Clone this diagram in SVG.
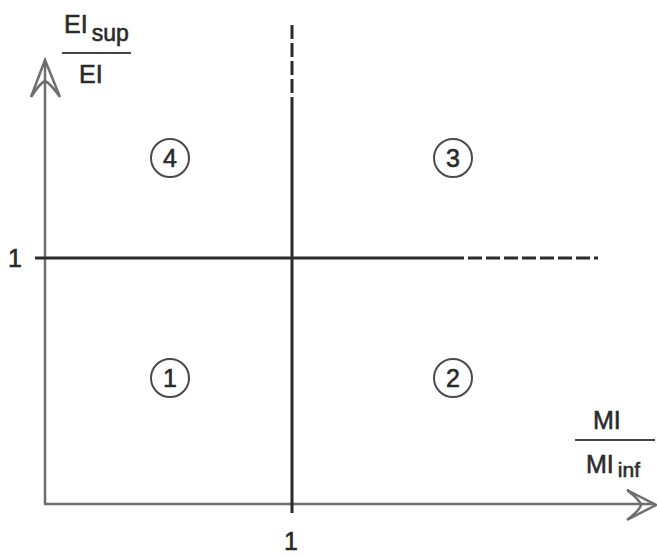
<svg xmlns="http://www.w3.org/2000/svg" width="657" height="557" viewBox="0 0 657 557">
<style>
.axis{stroke:#6e6e6e;stroke-width:2.5;fill:none}
.cross{stroke:#2b2b2b;stroke-width:3;fill:none}
.dash{stroke-dasharray:14 4}
.circ{fill:none;stroke:#4a4a4a;stroke-width:2}
text{font-family:"Liberation Sans",Arial,sans-serif;fill:#2b2b2b;stroke:#2b2b2b;stroke-width:0.6}
.num{font-size:25px;text-anchor:middle}
.lab{font-size:25px}
</style>
<rect width="657" height="557" fill="#fff"/>
<g id="connectors">
<line class="axis" x1="45" y1="62" x2="45" y2="504"/>
<line class="axis" x1="44" y1="504" x2="655" y2="504"/>
<path class="axis" d="M31,97 L45,60 L60,97 M31,97 Q40,83 45,81 Q50,83 60,97"/>
<path class="axis" d="M627,490 L656,505 L627,520 M627,490 Q640,500 641,505 Q640,510 627,520"/>
<line class="cross" x1="35" y1="258" x2="450" y2="258"/>
<line class="cross dash" x1="450" y1="258" x2="598" y2="258"/>
<line class="cross" x1="292" y1="98" x2="292" y2="513"/>
<line class="cross dash" x1="292" y1="25" x2="292" y2="98"/>
</g>
<g id="node-4"><circle class="circ" cx="170" cy="158" r="19"/><text class="num" x="170" y="167">4</text></g>
<g id="node-3"><circle class="circ" cx="453" cy="158" r="19"/><text class="num" x="453" y="167">3</text></g>
<g id="node-1"><circle class="circ" cx="170" cy="378" r="19"/><text class="num" x="170" y="387">1</text></g>
<g id="node-2"><circle class="circ" cx="453" cy="378" r="19"/><text class="num" x="453" y="387">2</text></g>
<g id="ylabel">
<text class="lab" x="64" y="33">EI<tspan font-size="23" dx="4" dy="8">sup</tspan></text>
<line x1="62" y1="53" x2="131" y2="53" stroke="#444" stroke-width="2"/>
<text class="lab" x="79" y="83">EI</text>
</g>
<g id="xlabel">
<text class="lab" x="593" y="429">MI</text>
<line x1="575" y1="440" x2="655" y2="440" stroke="#444" stroke-width="2"/>
<text class="lab" x="586" y="473">MI<tspan font-size="21" dx="4" dy="4">inf</tspan></text>
</g>
<g id="ticks">
<text class="lab" x="8" y="267" font-size="27">1</text>
<text class="lab" x="284" y="550" font-size="27">1</text>
</g>
</svg>
